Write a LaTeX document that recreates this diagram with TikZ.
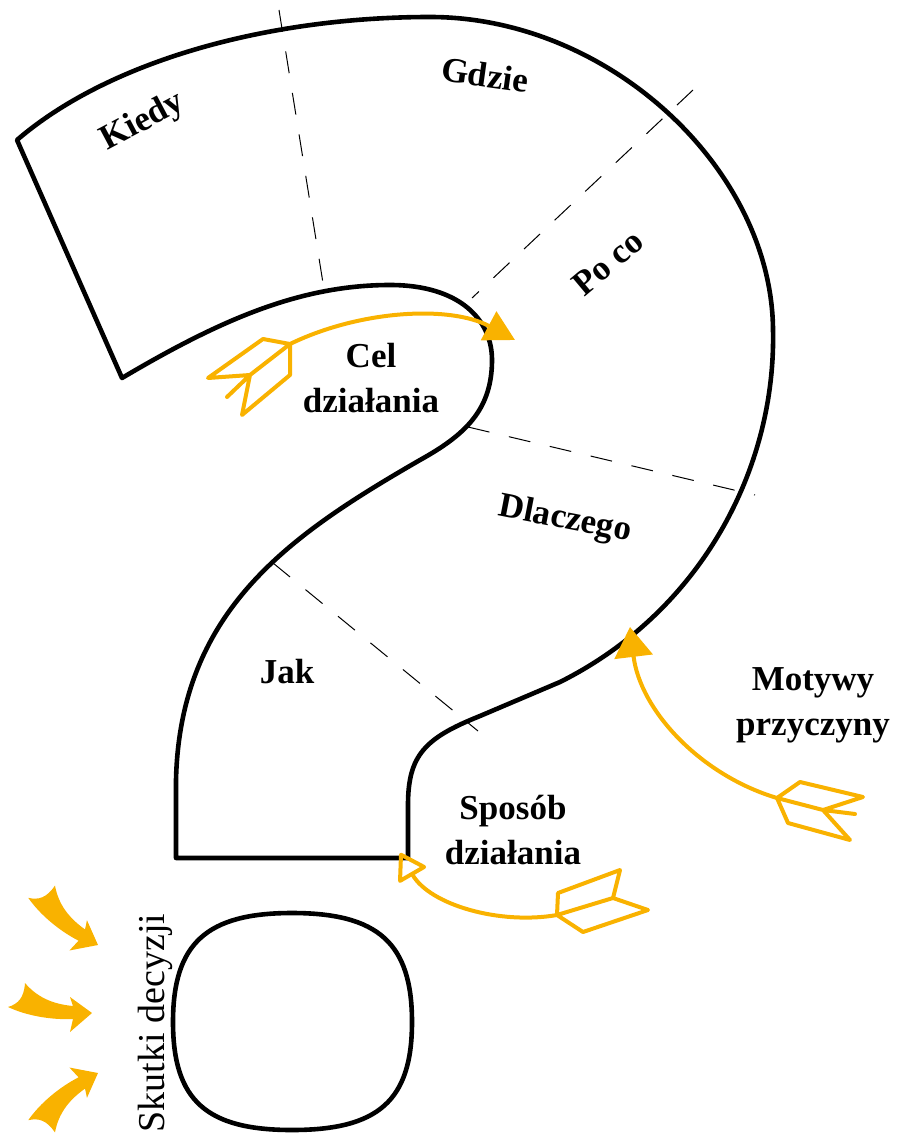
\documentclass[tikz,border=0pt]{standalone}
\usepackage{fontspec}
\setmainfont{Liberation Serif}
\usetikzlibrary{arrows.meta}
\definecolor{gold}{HTML}{F9B200}
\tikzset{swoosh/.pic={
    \fill[gold] (0,0) -- (-22,19) -- (-19,6) .. controls (-40,7) and (-65,3) .. (-84,-6)
      .. controls (-74,-9) and (-68,-15) .. (-67,-30)
      .. controls (-55,-16) and (-40,-9) .. (-19,-7) -- (-22,-16) -- cycle;
}}
\begin{document}
\begin{tikzpicture}[x=0.5pt,y=-0.5pt,
    outline/.style={line width=2.3pt, line join=round},
    sector/.style={line width=0.5pt, dash pattern=on 11pt off 10pt},
    lbl/.style={font=\fontsize{17.5}{22.5}\selectfont\bfseries, align=center, inner sep=0pt},
    shaft/.style={gold, line width=2pt},
    feather/.style={gold, line width=2pt, line join=round, line cap=round}]
\useasboundingbox (0,0) rectangle (901,1139);
% question mark
\draw[outline] (17,140) -- (122,378)
  .. controls (220,320) and (300,285) .. (390,285)
  .. controls (460,285) and (492,320) .. (492,360)
  .. controls (492,410) and (465,435) .. (420,460)
  .. controls (290,535) and (180,610) .. (176,780)
  -- (176,858) -- (408,858) -- (408,805)
  .. controls (408,755) and (425,738) .. (480,716)
  -- (560,682)
  .. controls (700,612) and (776,470) .. (773,330)
  .. controls (772,170) and (610,17) .. (430,17)
  .. controls (270,17) and (110,60) .. (17,140) -- cycle;
\draw[outline] (173,1022) .. controls (173,943) and (207,913) .. (292,913)
  .. controls (378,913) and (412,943) .. (412,1022)
  .. controls (412,1101) and (378,1130) .. (292,1130)
  .. controls (207,1130) and (173,1101) .. (173,1022);
% sectors
\draw[sector] (279,10) -- (323,283);
\draw[sector] (693,90) -- (472,298);
\draw[sector] (468,427) -- (755,495);
\draw[sector] (273,563) -- (478,731);
% labels
\node[lbl, rotate=28] (kiedy) at (143,122) {Kiedy};
\node[lbl, rotate=-8] (gdzie) at (485,75) {Gdzie};
\node[lbl, rotate=40] (poco) at (608,263) {Po co};
\node[lbl] (cel) at (371,378) {Cel\\działania};
\node[lbl, rotate=-11] (dlaczego) at (565,520) {Dlaczego};
\node[lbl] (jak) at (287,672) {Jak};
\node[lbl] (motywy) at (813,705) {Motywy\\przyczyny};
\node[lbl] (sposob) at (513,830) {Sposób\\działania};
\node[font=\fontsize{19}{19}\selectfont, rotate=90, inner sep=0pt] (skutki) at (155,1023) {Skutki decyzji};
% arrows
\coordinate (celtail) at (290,344);
\coordinate (celtip) at (515,340);
\draw[shaft, -{Triangle[length=15pt,width=16pt]}] (celtail) .. controls (360,310) and (450,305) .. (celtip);
\draw[feather] (celtail) -- (263,339) -- (208,378) -- (250,375) -- cycle
  (celtail) -- (290,375) -- (242,415) -- (250,375) -- (227,397);
\coordinate (mottail) at (777,798);
\coordinate (mottip) at (630,627);
\draw[shaft, -{Triangle[length=15pt,width=19pt]}] (mottail) .. controls (700,775) and (640,710) .. (mottip);
\draw[feather] (mottail) -- (800,782) -- (863,797) -- (823,810) -- cycle
  (mottail) -- (788,823) -- (850,840) -- (823,810) -- (855,814);
\coordinate (spotail) at (557,915);
\coordinate (spotip) at (400,853);
\draw[shaft, -{Triangle[open,round,length=14pt,width=17pt]}] (spotail) .. controls (500,925) and (430,905) .. (spotip);
\draw[feather] (spotail) -- (558,893) -- (620,870) -- (613,898) -- cycle
  (spotail) -- (583,932) -- (648,910) -- (613,898);
\pic[rotate=-30] at (98,945) {swoosh};
\pic at (92,1013) {swoosh};
\pic[rotate=30, yscale=-1] at (98,1073) {swoosh};
\end{tikzpicture}
\end{document}
